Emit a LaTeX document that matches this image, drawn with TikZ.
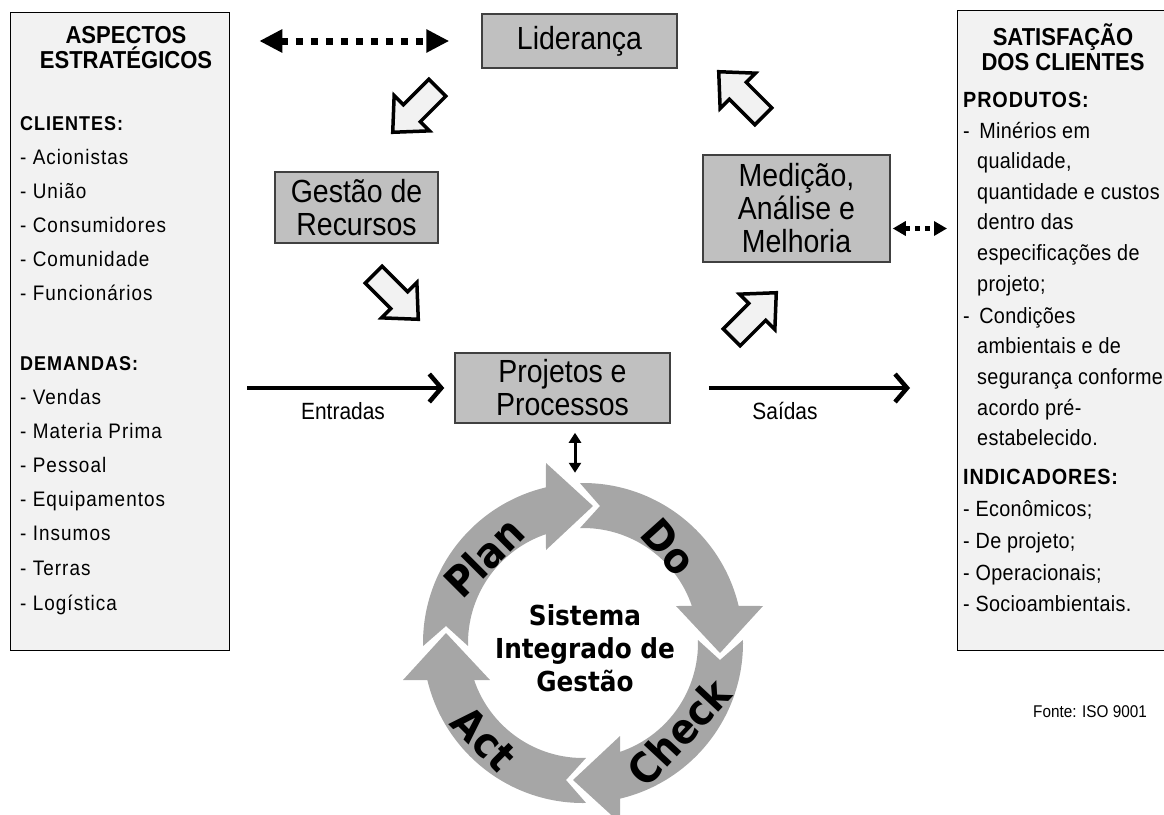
\documentclass[tikz,border=0pt]{standalone}
\usepackage{fontspec}
\setmainfont{Liberation Sans}
\newfontfamily\boxfont[FakeStretch=0.89]{Liberation Sans}
\newfontfamily\hfont[FakeStretch=0.9]{Liberation Sans}
\newfontfamily\leftfont[LetterSpace=5,FakeStretch=0.9]{Liberation Sans}
\newfontfamily\rightfont[LetterSpace=1.5,FakeStretch=0.9]{Liberation Sans}
\newfontfamily\rhfont[LetterSpace=4,FakeStretch=0.9]{Liberation Sans}
\newfontfamily\dvfont[FakeStretch=0.9]{DejaVu Sans}
\usetikzlibrary{arrows.meta}
\definecolor{boxgray}{HTML}{C0C0C0}
\definecolor{boxborder}{HTML}{404040}
\definecolor{sidefill}{HTML}{F2F2F2}
\definecolor{arrowfill}{HTML}{F2F2F2}
\definecolor{ringgray}{HTML}{A6A6A6}
\tikzset{
  sidebox/.style={draw=black, line width=1.3pt, fill=sidefill, inner sep=0pt, anchor=north west},
  graybox/.style={draw=boxborder, line width=1.5pt, fill=boxgray, inner sep=0pt, align=center,
    font=\boxfont\fontsize{32}{33}\selectfont},
  lhead/.style={inner sep=0pt, align=center, font=\hfont\bfseries\fontsize{24.5}{25}\selectfont},
  lsub/.style={anchor=base west, inner sep=0pt, font=\leftfont\bfseries\fontsize{20}{22}\selectfont},
  lbody/.style={anchor=base west, inner sep=0pt, font=\leftfont\fontsize{21}{22}\selectfont},
  rsub/.style={anchor=base west, inner sep=0pt, font=\rhfont\bfseries\fontsize{22}{22}\selectfont},
  rbody/.style={anchor=base west, inner sep=0pt, font=\rightfont\fontsize{22}{22}\selectfont},
  flowlabel/.style={inner sep=0pt, font=\boxfont\fontsize{23.5}{24}\selectfont},
  dotarrA/.style={line width=7pt, dash pattern=on 7pt off 8pt,
    {Triangle[length=23pt,width=22pt]}-{Triangle[length=23pt,width=22pt]}},
  dotarrB/.style={line width=5pt, dash pattern=on 5pt off 5pt,
    {Triangle[length=13pt,width=14pt]}-{Triangle[length=13pt,width=14pt]}},
  flowarr/.style={line width=4.5pt, -{Straight Barb[length=12pt,width=28pt,line join=miter]}},
  vdarr/.style={line width=3pt, {Triangle[length=10pt,width=12pt]}-{Triangle[length=10pt,width=12pt]}},
  ringtxt/.style={inner sep=0pt, font=\dvfont\bfseries\fontsize{42}{44}\selectfont},
  blockarrow/.pic={\draw[line width=3.5pt, fill=arrowfill, line join=miter]
    (-31.5,-12) -- (4.5,-12) -- (4.5,-25) -- (31.5,0) -- (4.5,25) -- (4.5,12) -- (-31.5,12) -- cycle;}
}
\begin{document}
\begin{tikzpicture}[x=1pt,y=1pt]
\useasboundingbox (0,0) rectangle (1164,-814);

% side boxes
\node[sidebox, minimum width=219pt, minimum height=638pt] (asp) at (10,-12) {};
\node[sidebox, minimum width=220pt, minimum height=640pt] (sat) at (957,-10) {};

% left box text
\node[lhead] (asph) at (126,-47.5) {ASPECTOS\\ESTRATÉGICOS};
\node[lsub] (cli) at (20,-130) {CLIENTES:};
\foreach \y/\t [count=\i] in {157/Acionistas, 191/União, 225/Consumidores, 259/Comunidade, 293/Funcionários}
  \node[lbody] (lc\i) at (20,-\y-7.5) {- \t};
\node[lsub] (dem) at (20,-370) {DEMANDAS:};
\foreach \y/\t [count=\i] in {397/Vendas, 431/Materia Prima, 465/Pessoal, 499/Equipamentos, 533/Insumos, 568/Terras, 603/Logística}
  \node[lbody] (ld\i) at (20,-\y-7.5) {- \t};

% right box text
\node[lhead] (sath) at (1063,-47.5) {SATISFAÇÃO\\DOS CLIENTES};
\node[rsub] (prod) at (963,-107.5) {PRODUTOS:};
\node[rsub] (ind) at (963,-484.5) {INDICADORES:};
\foreach \y/\t [count=\i] in {131/{- \,Minérios em}, 316/{- \,Condições}, 509/{- Econômicos;}, 541/{- De projeto;}, 573/{- Operacionais;}, 604/{- Socioambientais.}}
  \node[rbody] (rd\i) at (963,-\y-7.5) {\t};
\foreach \y/\t [count=\i] in {161/{qualidade,}, 192/{quantidade e custos}, 222/{dentro das}, 253/{especificações de}, 284/{projeto;}, 346/{ambientais e de}, 377/{segurança conforme}, 408/{acordo pré-}, 438/{estabelecido.}}
  \node[rbody] (rc\i) at (977,-\y-7.5) {\t};

% gray boxes
\node[graybox, minimum width=195pt, minimum height=54pt] (lid) at (579.5,-41) {Liderança};
\node[graybox, minimum width=163pt, minimum height=71pt] (ges) at (356.5,-207.5) {Gestão de\\Recursos};
\node[graybox, minimum width=187pt, minimum height=107pt] (med) at (796.5,-208.5) {Medição,\\Análise e\\Melhoria};
\node[graybox, minimum width=215pt, minimum height=70pt] (proj) at (562.5,-388) {Projetos e\\Processos};

% dotted double arrows
\draw[dotarrA] ([xshift=29pt]asp.east |- lid.west) -- ([xshift=-32pt]lid.west);
\draw[dotarrB] ([shift={(2pt,-20pt)}]med.east) -- ([shift={(-10pt,-20pt)}]med.east -| sat.west);

% hollow block arrows
\pic[rotate=225] at (415,-110) {blockarrow};
\pic[rotate=-45] at (396,-297) {blockarrow};
\pic[rotate=45] at (754,-315) {blockarrow};
\pic[rotate=135] at (741,-94) {blockarrow};

% inputs / outputs
\coordinate (entstart) at (247,-388);
\coordinate (saiend) at (910,-388);
\draw[flowarr] (entstart) -- ([xshift=-10pt]proj.west);
\draw[flowarr] ([xshift=38pt]proj.east) -- (saiend);
\node[flowlabel] (entl) at (343,-411) {Entradas};
\node[flowlabel] (sail) at (785,-411) {Saídas};

% vertical double arrow
\draw[vdarr] ([shift={(12.5pt,-9pt)}]proj.south) -- ([shift={(12.5pt,-49pt)}]proj.south);

% PDCA ring
\foreach \r in {90,0,-90,180}
  \fill[ringgray, shift={(583,-643)}, rotate=\r]
    (91.1:160pt) arc[start angle=91.1, end angle=13.4, radius=160pt]
    -- (180,37) -- (137,-10) -- (93,37) -- (18.8:115pt)
    arc[start angle=18.8, end angle=91.5, radius=115pt]
    -- (17,137) -- cycle;

\node[ringtxt, rotate=45] (tplan) at (484,-557) {Plan};
\node[ringtxt, rotate=-48] (tdo) at (669,-547) {Do};
\node[ringtxt, rotate=47] (tcheck) at (679,-732) {Check};
\node[ringtxt, rotate=-45] (tact) at (484,-739) {Act};
\node[inner sep=0pt, align=center, font=\dvfont\bfseries\fontsize{27.5}{33}\selectfont] (sig) at (585,-648) {Sistema\\Integrado de\\Gestão};

\node[inner sep=0pt, font=\hfont\fontsize{17}{18}\selectfont] (fonte) at (1090,-712) {Fonte: ISO 9001};
\end{tikzpicture}
\end{document}
